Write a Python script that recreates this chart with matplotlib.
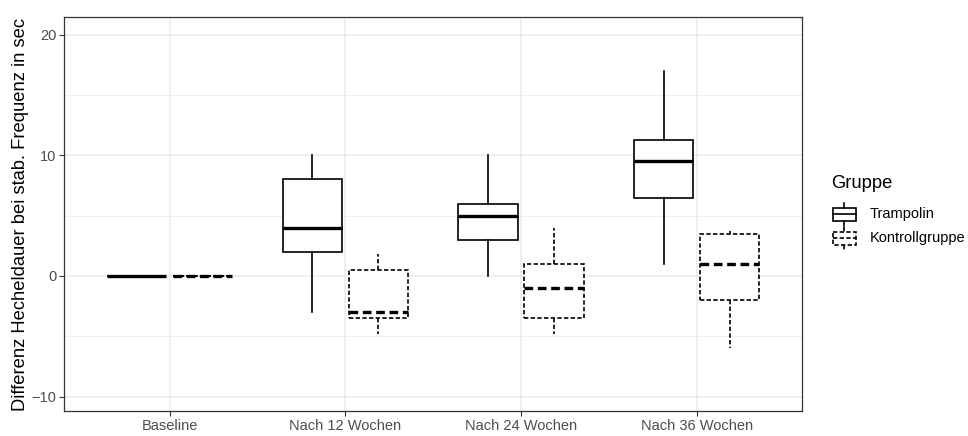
import matplotlib
matplotlib.use("Agg")
import matplotlib.pyplot as plt
from matplotlib.lines import Line2D
from matplotlib.patches import Rectangle

plt.rcParams['font.family'] = ['Liberation Sans', 'DejaVu Sans']

categories = ["Baseline", "Nach 12 Wochen", "Nach 24 Wochen", "Nach 36 Wochen"]
groups = ["Trampolin", "Kontrollgruppe"]

# five-number summaries per category: (whislo, q1, med, q3, whishi)
tramp_whislo = [0, -3.0, 0.0, 1.0]
tramp_q1     = [0, 2.0, 3.0, 6.5]
tramp_med    = [0, 4.0, 5.0, 9.5]
tramp_q3     = [0, 8.0, 6.0, 11.3]
tramp_whishi = [0, 10.0, 10.0, 17.0]

kontr_whislo = [0, -4.8, -4.8, -6.0]
kontr_q1     = [0, -3.5, -3.5, -2.0]
kontr_med    = [0, -3.0, -1.0, 1.0]
kontr_q3     = [0, 0.5, 1.0, 3.5]
kontr_whishi = [0, 1.8, 4.0, 3.7]

y_ticks = [-10, 0, 10, 20]
y_minor = [-5, 5, 15]

W, H = 968, 436
fig = plt.figure(figsize=(W / 100, H / 100), dpi=100)
ax = fig.add_axes([64.3 / W, 1 - 411 / H, (802 - 64.3) / W, (411 - 17.3) / H])

grid_c = "#EBEBEB"
for y in y_minor:
    ax.axhline(y, color=grid_c, lw=0.6, zorder=0)
for y in y_ticks:
    ax.axhline(y, color=grid_c, lw=1.1, zorder=0)
xpos = list(range(1, len(categories) + 1))
for x in xpos:
    ax.axvline(x, color=grid_c, lw=1.1, zorder=0)

def stats(lo, q1, med, q3, hi):
    return [dict(whislo=a, q1=b, med=c, q3=d, whishi=e, fliers=[])
            for a, b, c, d, e in zip(lo, q1, med, q3, hi)]

off = 0.1875
bw = 0.3375
lw = 1.2
solid = dict(color="black", lw=lw, linestyle="-")
dash = (0, (2.6, 1.4))
dashed = dict(color="black", lw=lw, linestyle=dash)

ax.bxp(stats(tramp_whislo, tramp_q1, tramp_med, tramp_q3, tramp_whishi),
       positions=[x - off for x in xpos], widths=bw, showcaps=False,
       showfliers=False, patch_artist=True,
       boxprops=dict(facecolor="white", edgecolor="black", lw=lw),
       whiskerprops=solid,
       medianprops=dict(color="black", lw=2.4, solid_capstyle="butt"),
       manage_ticks=False, zorder=3)
ax.bxp(stats(kontr_whislo, kontr_q1, kontr_med, kontr_q3, kontr_whishi),
       positions=[x + off for x in xpos], widths=bw, showcaps=False,
       showfliers=False, patch_artist=True,
       boxprops=dict(facecolor="white", edgecolor="black", lw=lw, linestyle=dash),
       whiskerprops=dashed,
       medianprops=dict(color="black", lw=2.4, linestyle=dash, dash_capstyle="butt"),
       manage_ticks=False, zorder=3)

ax.set_xlim(0.4, 4.6)
ax.set_ylim(-11.2, 21.45)
ax.set_xticks(xpos)
ax.set_xticklabels(categories)
ax.set_yticks(y_ticks)
ax.tick_params(axis="both", colors="#333333", labelcolor="#4D4D4D",
               labelsize=10.5, length=3.3, width=0.8, pad=2.5)
for s in ax.spines.values():
    s.set_color("#333333")
    s.set_linewidth(0.9)
ax.set_ylabel("Differenz Hecheldauer bei stab. Frequenz in sec", fontsize=13.2,
              color="black", labelpad=2)

# legend drawn in pixel coordinates
lax = fig.add_axes([0, 0, 1, 1])
lax.set_xlim(0, W)
lax.set_ylim(H, 0)
lax.axis("off")
lax.text(831, 183, "Gruppe", fontsize=13.2, va="center", ha="left")
key_y = [214, 238]
styles = ["-", dash]
for name, ky, st in zip(groups, key_y, styles):
    x0, x1 = 832.5, 855.5
    xc = (x0 + x1) / 2
    lax.add_patch(Rectangle((x0, ky - 6.5), x1 - x0, 13, facecolor="white",
                            edgecolor="black", lw=1.2, linestyle=st))
    lax.add_line(Line2D([xc, xc], [ky - 11.5, ky - 6.5], color="black", lw=1.2, linestyle=st))
    lax.add_line(Line2D([xc, xc], [ky + 6.5, ky + 11.5], color="black", lw=1.2, linestyle=st))
    lax.add_line(Line2D([x0, x1], [ky, ky], color="black", lw=1.2, linestyle=st))
    lax.text(870, ky, name, fontsize=10.5, va="center", ha="left")

fig.savefig("out.png", dpi=100)
